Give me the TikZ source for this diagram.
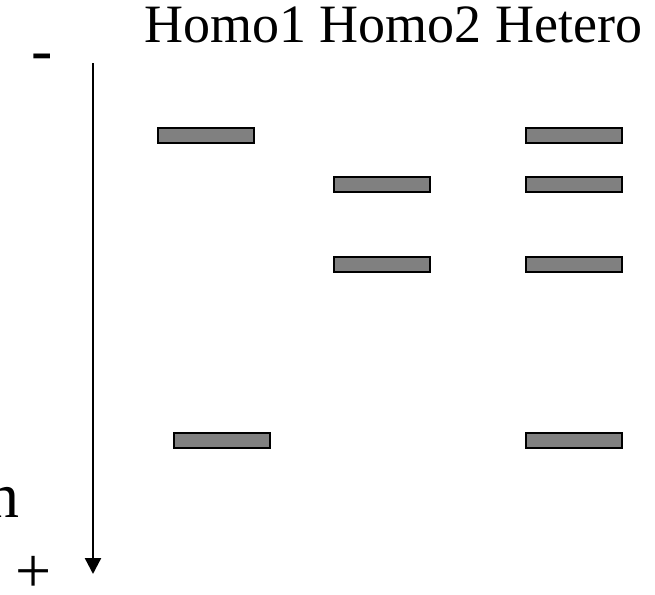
\documentclass[tikz,border=0pt]{standalone}
\usepackage{fontspec}
\setmainfont{Liberation Serif}
\usetikzlibrary{arrows.meta}
\begin{document}
\begin{tikzpicture}[x=1pt,y=-1pt,
  bandbox/.style={draw=black,line width=2pt,fill=black!50,minimum width=96pt,minimum height=15pt,inner sep=0pt,anchor=north west},
  biglabel/.style={font=\fontsize{64}{70}\selectfont,inner sep=0pt},
  headlabel/.style={font=\fontsize{54}{60}\selectfont,inner sep=0pt,anchor=base west}]
\useasboundingbox (0,0) rectangle (655,594);
\node[headlabel] (head) at (144,43) {Homo1 Homo2 Hetero};
\node[biglabel,anchor=base] (minus) at (42.5,71.5) {-};
\node[biglabel,anchor=base] (plus) at (34,592) {+};
\node[biglabel,anchor=base east] (nlab) at (20,517) {n};
\coordinate (atop) at (93,63);
\coordinate (abot) at (93,574);
\draw[line width=2.3pt,-{Triangle[width=16pt,length=16pt]}] (atop) -- (abot);
% Homo1
\node[bandbox] (h1a) at (157,127) {};
\node[bandbox] (h1b) at (173,432) {};
% Homo2
\node[bandbox] (h2a) at (333,176) {};
\node[bandbox] (h2b) at (333,256) {};
% Hetero
\node[bandbox] (hea) at (525,127) {};
\node[bandbox] (heb) at (525,176) {};
\node[bandbox] (hec) at (525,256) {};
\node[bandbox] (hed) at (525,432) {};
\end{tikzpicture}
\end{document}
